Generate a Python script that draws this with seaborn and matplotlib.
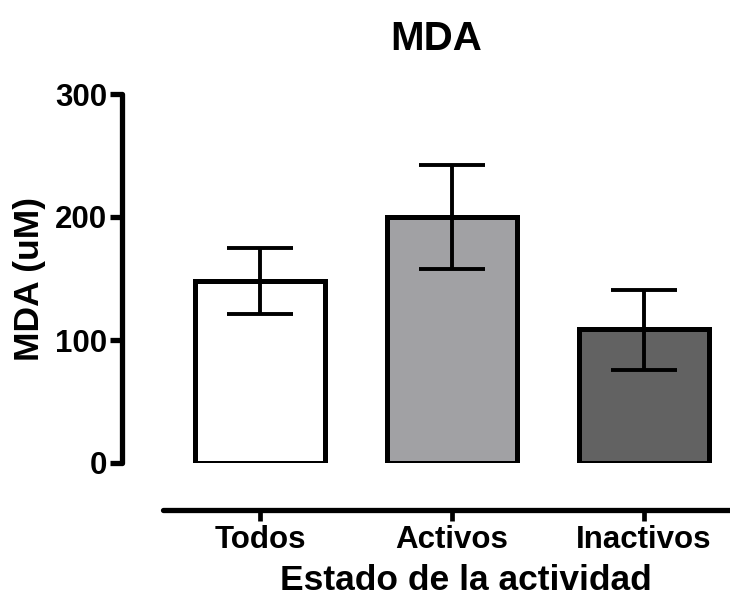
import matplotlib
matplotlib.use("Agg")
import matplotlib.pyplot as plt
import seaborn as sns
import pandas as pd

# Group means and error bounds (uM)
groups = ["Todos", "Activos", "Inactivos"]
means = [148, 200, 109]
err_low = [121, 158, 76]
err_high = [175, 242, 141]
bar_colors = ["#ffffff", "#a1a0a5", "#626262"]
y_ticks = [0, 100, 200, 300]

sns.set_style("ticks")
plt.rcParams["font.family"] = ["Liberation Sans", "DejaVu Sans"]
plt.rcParams["font.weight"] = "bold"
plt.rcParams["text.color"] = "black"
plt.rcParams["axes.labelcolor"] = "black"
plt.rcParams["xtick.color"] = "black"
plt.rcParams["ytick.color"] = "black"
plt.rcParams["axes.edgecolor"] = "black"

df = pd.DataFrame({"grupo": groups, "mda": means})

W, H = 730, 599
fig = plt.figure(figsize=(W / 100, H / 100), dpi=100)
ax = fig.add_axes([122 / W, 136 / H, 608 / W, 369 / H])

sns.barplot(data=df, x="grupo", y="mda", hue="grupo", palette=bar_colors,
            width=0.68, edgecolor="black", linewidth=3.6, legend=False,
            errorbar=None, ax=ax)

yerr = [[m - lo for m, lo in zip(means, err_low)],
        [hi - m for m, hi in zip(means, err_high)]]
ax.errorbar(range(len(groups)), means, yerr=yerr, fmt="none", ecolor="black",
            elinewidth=2.8, capsize=24, capthick=2.8, zorder=5)

ax.set_xlim(-0.72, 2.448)
ax.set_ylim(0, 300)
ax.set_yticks(y_ticks)
ax.set_yticklabels([str(t) for t in y_ticks])

sns.despine(ax=ax)
for side in ("left", "bottom"):
    ax.spines[side].set_linewidth(3.8)
    ax.spines[side].set_color("black")
    ax.spines[side].set_capstyle("round")
ax.spines["left"].set_bounds(0, 300)
ax.spines["bottom"].set_position(("outward", 34))
ax.spines["bottom"].set_bounds(-0.505, 2.6)

ax.tick_params(axis="y", direction="out", length=8.5, width=3.8, pad=2,
               labelsize=22.5, colors="black")
ax.tick_params(axis="x", direction="out", length=8, width=3.4, pad=3,
               labelsize=22.5, colors="black")
for lab in ax.get_xticklabels() + ax.get_yticklabels():
    lab.set_fontweight("bold")

ax.set_xlabel("Estado de la actividad", fontsize=25.5, fontweight="bold",
              color="black")
ax.xaxis.label.set_verticalalignment("baseline")
ax.xaxis.set_label_coords(466 / W, 9 / H, transform=fig.transFigure)

ax.set_ylabel("MDA (uM)", fontsize=25.5, fontweight="bold", color="black")
ax.yaxis.label.set_verticalalignment("center")
ax.yaxis.set_label_coords(29 / W, (H - 279) / H, transform=fig.transFigure)

fig.text(0.597, 0.935, "MDA", ha="center", va="center", fontsize=29,
         fontweight="bold", color="black")

fig.savefig("out.png", dpi=100)
